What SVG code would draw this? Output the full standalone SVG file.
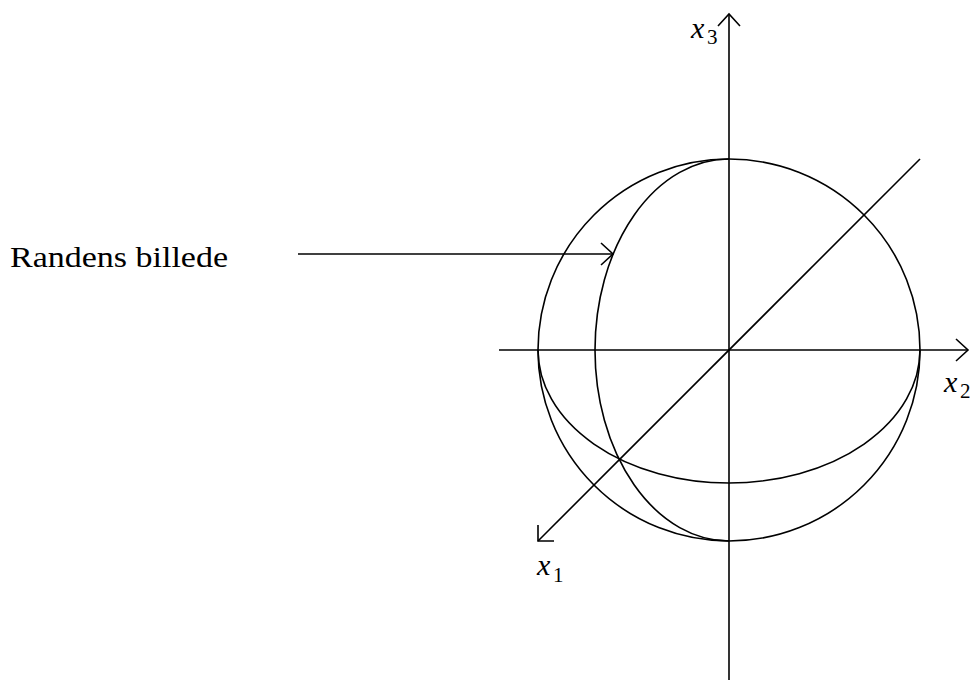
<svg xmlns="http://www.w3.org/2000/svg" width="973" height="680" viewBox="0 0 973 680">
<style>
.l{fill:none;stroke:#000;stroke-width:1.6}
.t{font-family:"Liberation Serif","Times New Roman","DejaVu Serif",serif;fill:#000}
.v{font-style:italic;font-size:30px}
.s{font-size:21px}
</style>
<rect width="973" height="680" fill="#fff"/>
<g id="sphere">
<circle class="l" cx="729" cy="350" r="191"/>
<path class="l" d="M538,350 A191,133 0 0 0 920,350"/>
<path class="l" d="M729,159 A134,191 0 0 0 729,541"/>
</g>
<g id="connectors">
<line class="l" x1="729" y1="680" x2="729" y2="14"/>
<polyline class="l" points="718,26 729,14 740,26"/>
<line class="l" x1="499" y1="350" x2="968" y2="350"/>
<polyline class="l" points="956,339 968,350 956,361"/>
<line class="l" x1="920" y1="159" x2="538" y2="541"/>
<polyline class="l" points="538,525 538,541 554,541"/>
<line class="l" x1="298" y1="254" x2="613" y2="254"/>
<polyline class="l" points="601,243 613,254 601,265"/>
</g>
<g id="labels">
<text class="t" x="10" y="267" font-size="30" textLength="218" lengthAdjust="spacingAndGlyphs">Randens billede</text>
<text class="t v" x="691" y="38">x</text><text class="t s" x="707" y="44">3</text>
<text class="t v" x="944" y="392">x</text><text class="t s" x="960" y="398">2</text>
<text class="t v" x="537" y="575">x</text><text class="t s" x="553" y="582">1</text>
</g>
</svg>
